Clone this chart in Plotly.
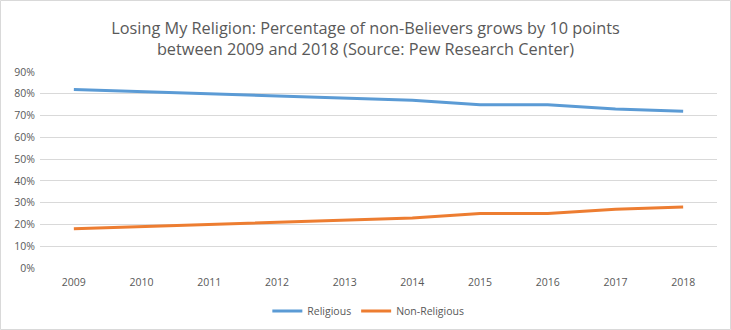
import plotly.graph_objects as go

years = ["2009", "2010", "2011", "2012", "2013", "2014", "2015", "2016", "2017", "2018"]
religious = [82, 81, 80, 79, 78, 77, 75, 75, 73, 72]
non_religious = [18, 19, 20, 21, 22, 23, 25, 25, 27, 28]
y_ticks = [0, 10, 20, 30, 40, 50, 60, 70, 80, 90]
y_labels = [f"{v}%" for v in y_ticks]

W, H = 731, 330
ml, mr, mt, mb = 40, 14, 72, 62
pw, ph = W - ml - mr, H - mt - mb

fig = go.Figure()
fig.add_trace(go.Scatter(x=years, y=religious, mode="lines", name="Religious",
                         line=dict(color="#5B9BD5", width=3)))
fig.add_trace(go.Scatter(x=years, y=non_religious, mode="lines", name="Non-Religious",
                         line=dict(color="#ED7D31", width=3)))

font = "Open Sans"
fig.update_layout(
    width=W, height=H, autosize=False,
    margin=dict(l=ml, r=mr, t=mt, b=mb, autoexpand=False),
    paper_bgcolor="white", plot_bgcolor="white",
    font=dict(family=font, color="#595959", size=10.5),
    title=dict(text="Losing My Religion: Percentage of non-Believers grows by 10 points<br>between 2009 and 2018 (Source: Pew Research Center)",
               x=0.5, xref="container", xanchor="center", y=1 - 34 / H, yanchor="middle",
               font=dict(size=16.3, color="#595959", family=font)),
    xaxis=dict(type="category", range=[-0.5, 9.5], showgrid=False, showline=False, ticks="",
               tickangle=0, domain=[0, 1], automargin=False, ticklabelstandoff=6,
               tickfont=dict(size=10.5, color="#595959"), zeroline=False),
    yaxis=dict(range=[0, 90], tickmode="array", tickvals=y_ticks, ticktext=y_labels,
               showgrid=True, automargin=False, ticklabelstandoff=4,
               gridcolor="#D9D9D9", gridwidth=1, zeroline=False, showline=False,
               ticks="", tickfont=dict(size=10.5, color="#595959")),
    legend=dict(orientation="h", x=0.485, xanchor="center", itemwidth=30,
                y=-(311 - 268) / ph, yanchor="middle",
                font=dict(size=10.5, color="#595959")),
    showlegend=True,
)
fig.add_shape(type="rect", xref="paper", yref="paper",
              x0=-(ml - 0.5) / pw, x1=1 + (mr - 0.5) / pw,
              y0=-(mb - 0.5) / ph, y1=1 + (mt - 0.5) / ph,
              line=dict(color="#D9D9D9", width=1), layer="below")

fig.write_html("out.html")
